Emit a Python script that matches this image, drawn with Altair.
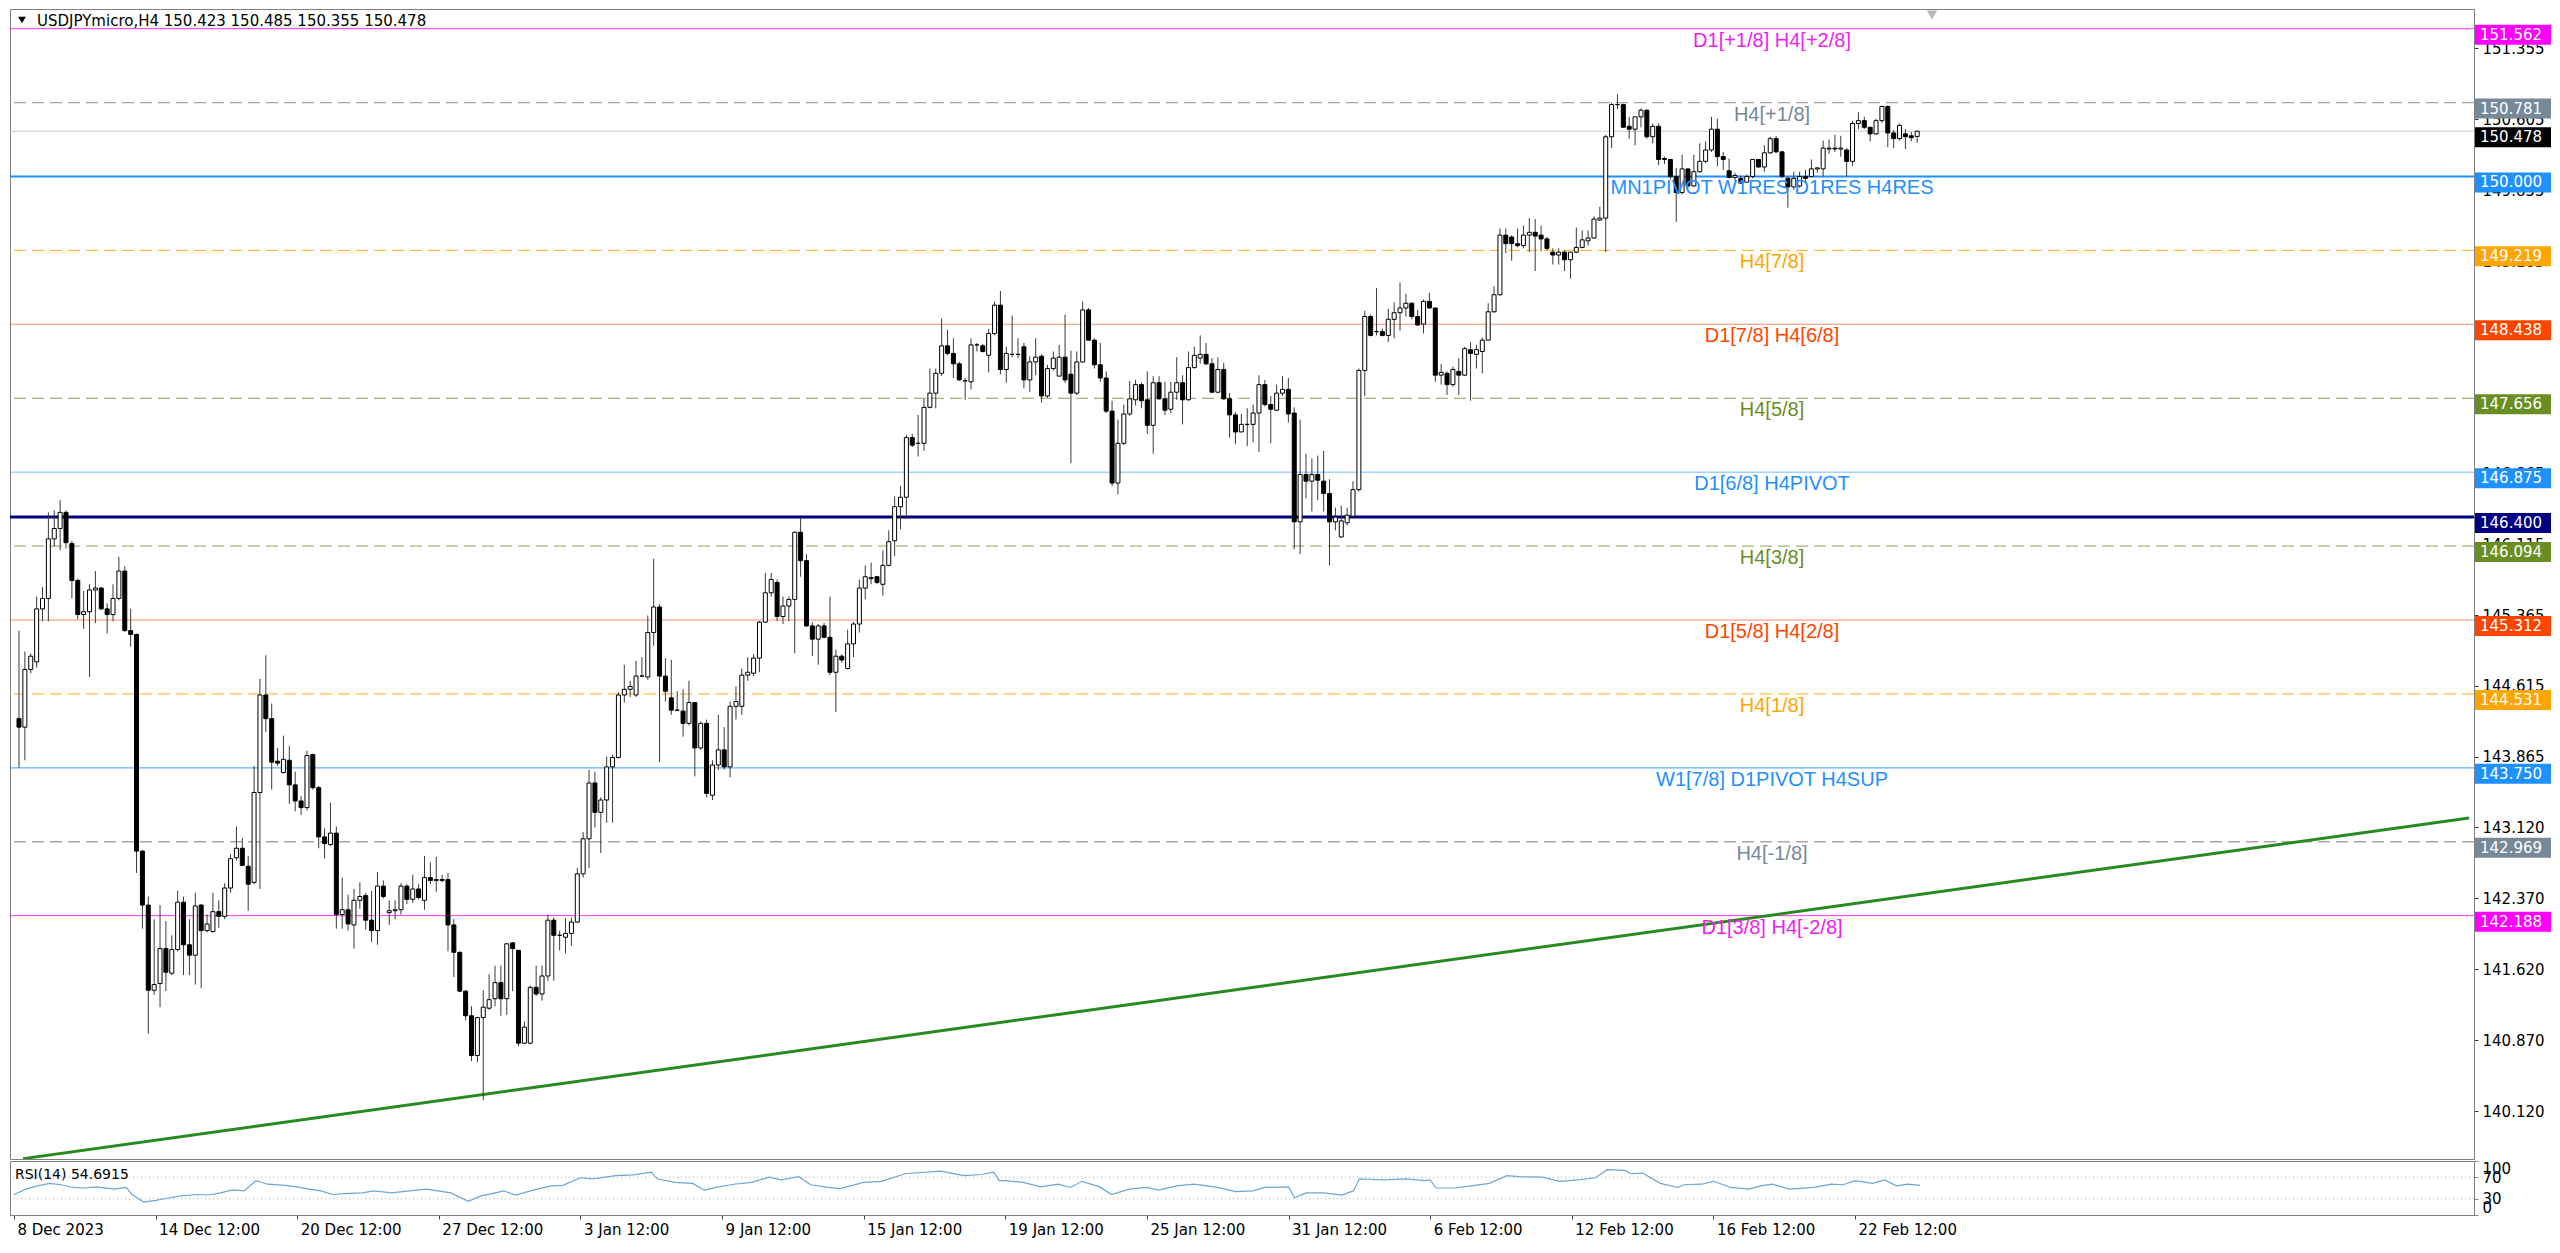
import altair as alt
import pandas as pd

# ---------------- candle data (H4 bars, index 0 = 8 Dec 2023 12:00) ----------------
OPEN = [
    144.27, 144.18, 144.79, 144.87, 145.43, 145.54, 146.17, 146.28, 146.45, 146.12,
    145.73, 145.37, 145.40, 145.63, 145.65, 145.43, 145.37, 145.54, 145.83, 145.20,
    145.16, 142.87, 142.30, 141.40, 141.47, 141.84, 141.58, 141.83, 142.33, 141.88,
    141.77, 142.30, 142.03, 142.02, 142.23, 142.18, 142.48, 142.80, 142.90, 142.71,
    142.54, 143.49, 144.52, 144.27, 143.82, 143.70, 143.83, 143.57, 143.40, 143.33,
    143.89, 143.54, 143.02, 142.94, 143.06, 142.20, 142.25, 142.09, 142.35, 142.40,
    142.14, 142.03, 142.50, 142.22, 142.24, 142.25, 142.50, 142.36, 142.47, 142.35,
    142.59, 142.56, 142.57, 142.57, 142.09, 141.80, 141.39, 141.13, 140.71, 141.11,
    141.21, 141.31, 141.48, 141.31, 141.90, 141.82, 140.84, 140.84, 141.43, 141.36,
    141.55, 142.14, 141.98, 141.96, 142.00, 142.12, 142.63, 143.00, 143.59, 143.28,
    143.41, 143.76, 143.86, 144.52, 144.58, 144.52, 144.72, 144.71, 145.18, 145.45,
    144.72, 144.49, 144.36, 144.35, 144.22, 144.44, 143.96, 144.22, 143.46, 143.78,
    143.94, 143.76, 144.40, 144.40, 144.73, 144.75, 144.91, 145.29, 145.60, 145.71,
    145.35, 145.46, 145.53, 146.24, 145.94, 145.25, 145.11, 145.25, 145.13, 144.76,
    144.93, 144.80, 145.06, 145.27, 145.65, 145.75, 145.77, 145.69, 145.89, 146.15,
    146.51, 146.61, 147.24, 147.18, 147.18, 147.56, 147.71, 147.92, 148.21, 148.13,
    148.02, 147.84, 147.83, 148.22, 148.21, 148.11, 148.34, 148.64, 147.96, 148.12,
    148.12, 148.20, 147.85, 148.04, 148.10, 147.68, 147.97, 147.89, 148.09, 147.91,
    147.71, 148.04, 148.59, 148.27, 148.01, 147.87, 147.52, 146.76, 147.18, 147.49,
    147.64, 147.80, 147.64, 147.37, 147.82, 147.65, 147.54, 147.72, 147.82, 147.64,
    147.98, 148.08, 148.12, 148.02, 147.72, 147.96, 147.65, 147.48, 147.30, 147.38,
    147.38, 147.50, 147.80, 147.59, 147.53, 147.71, 147.75, 147.50, 146.35, 146.85,
    146.78, 146.85, 146.78, 146.65, 146.35, 146.19, 146.34, 146.41, 146.69, 147.95,
    148.52, 148.36, 148.36, 148.32, 148.49, 148.56, 148.61, 148.66, 148.52, 148.44,
    148.68, 148.61, 147.90, 147.92, 147.80, 147.94, 147.90, 148.17, 148.12, 148.15,
    148.27, 148.57, 148.75, 149.38, 149.36, 149.29, 149.27, 149.38, 149.41, 149.38,
    149.34, 149.20, 149.17, 149.20, 149.12, 149.20, 149.25, 149.32, 149.35, 149.54,
    149.56, 150.42, 150.76, 150.76, 150.53, 150.50, 150.63, 150.70, 150.42, 150.53,
    150.19, 150.18, 150.00, 149.83, 150.08, 149.90, 150.05, 150.16, 150.28, 150.50,
    150.21, 150.06, 149.99, 149.98, 149.94, 150.00, 150.18, 150.10, 150.25, 150.40,
    150.26, 149.98, 149.89, 149.90, 150.00, 150.00, 150.08, 150.08, 150.29, 150.29,
    150.29, 150.28, 150.16, 150.56, 150.59, 150.52, 150.45, 150.59, 150.74, 150.46,
    150.40, 150.45, 150.43, 150.423,
]
HIGH = [
    145.20, 144.98, 144.96, 145.56, 145.66, 146.45, 146.47, 146.58, 146.47, 146.15,
    145.75, 145.62, 145.69, 145.83, 145.66, 145.49, 145.69, 145.98, 145.88, 145.43,
    145.17, 142.88, 142.39, 142.15, 142.30, 142.13, 141.98, 142.45, 142.39, 142.15,
    142.43, 142.31, 142.20, 142.43, 142.35, 142.53, 142.84, 143.13, 143.01, 142.82,
    143.77, 144.69, 144.94, 144.43, 143.96, 144.09, 143.98, 143.71, 143.45, 143.93,
    143.90, 143.56, 143.11, 143.38, 143.13, 142.59, 142.41, 142.47, 142.54, 142.43,
    142.45, 142.65, 142.56, 142.35, 142.35, 142.53, 142.52, 142.62, 142.52, 142.82,
    142.75, 142.81, 142.62, 142.64, 142.15, 141.81, 141.40, 141.23, 141.12, 141.40,
    141.57, 141.66, 141.66, 141.90, 141.91, 141.83, 141.07, 141.45, 141.66, 141.66,
    142.20, 142.17, 142.03, 142.16, 142.17, 142.69, 143.07, 143.73, 143.71, 143.44,
    143.87, 143.89, 144.55, 144.84, 144.67, 144.88, 144.92, 145.36, 145.96, 145.48,
    144.91, 144.89, 144.56, 144.58, 144.67, 144.45, 144.24, 144.26, 143.83, 144.31,
    144.18, 144.45, 144.61, 144.80, 144.92, 144.95, 145.30, 145.81, 145.81, 145.74,
    145.56, 145.56, 146.25, 146.40, 146.01, 145.29, 145.27, 145.28, 145.56, 145.00,
    144.95, 145.21, 145.29, 145.74, 145.89, 145.92, 145.78, 146.05, 146.26, 146.62,
    146.73, 147.27, 147.28, 147.48, 147.65, 147.97, 147.97, 148.50, 148.38, 148.29,
    148.04, 147.87, 148.29, 148.24, 148.23, 148.39, 148.68, 148.79, 148.20, 148.53,
    148.29, 148.24, 148.10, 148.29, 148.12, 148.01, 148.15, 148.22, 148.54, 148.16,
    148.15, 148.68, 148.61, 148.29, 148.24, 147.94, 147.63, 147.43, 147.59, 147.84,
    147.85, 147.82, 147.94, 147.89, 147.89, 147.83, 147.83, 148.09, 147.90, 148.15,
    148.20, 148.32, 148.24, 148.08, 148.09, 148.03, 147.71, 147.51, 147.49, 147.55,
    147.59, 147.90, 147.85, 147.68, 147.80, 147.89, 147.87, 147.56, 147.43, 147.07,
    147.02, 147.05, 147.10, 146.80, 146.50, 146.52, 146.50, 146.78, 147.97, 148.58,
    148.54, 148.82, 148.39, 148.60, 148.67, 148.88, 148.76, 148.67, 148.59, 148.70,
    148.77, 148.61, 148.02, 147.94, 147.99, 148.08, 148.20, 148.25, 148.22, 148.30,
    148.66, 148.84, 149.45, 149.45, 149.38, 149.45, 149.48, 149.56, 149.55, 149.48,
    149.36, 149.24, 149.24, 149.22, 149.20, 149.46, 149.43, 149.43, 149.58, 149.68,
    150.44, 150.78, 150.87, 150.77, 150.63, 150.63, 150.72, 150.71, 150.56, 150.56,
    150.21, 150.18, 150.09, 150.23, 150.08, 150.23, 150.35, 150.37, 150.63, 150.61,
    150.26, 150.19, 150.04, 150.01, 150.02, 150.18, 150.18, 150.33, 150.42, 150.43,
    150.27, 150.00, 150.05, 150.05, 150.07, 150.18, 150.10, 150.38, 150.39, 150.44,
    150.43, 150.30, 150.59, 150.68, 150.63, 150.52, 150.61, 150.75, 150.75, 150.49,
    150.56, 150.50, 150.47, 150.485,
]
LOW = [
    143.75, 143.83, 144.75, 144.81, 145.30, 145.30, 146.09, 146.05, 146.07, 145.54,
    145.32, 145.22, 144.71, 145.28, 145.42, 145.17, 145.30, 145.52, 145.19, 145.03,
    142.64, 142.05, 140.94, 141.35, 141.22, 141.39, 141.56, 141.81, 141.56, 141.56,
    141.46, 141.42, 142.01, 142.01, 142.06, 142.15, 142.43, 142.77, 142.71, 142.24,
    142.52, 142.47, 144.13, 143.52, 143.77, 143.69, 143.37, 143.29, 143.25, 143.30,
    143.52, 142.90, 142.79, 142.92, 142.05, 142.05, 142.03, 141.84, 142.26, 142.04,
    141.91, 141.88, 142.37, 142.09, 142.15, 142.20, 142.31, 142.32, 142.36, 142.25,
    142.52, 142.44, 142.54, 141.81, 141.54, 141.38, 141.08, 140.65, 140.64, 140.24,
    141.19, 141.23, 141.13, 141.14, 141.39, 140.81, 140.83, 140.83, 141.34, 141.29,
    141.50, 141.50, 141.82, 141.79, 141.87, 142.11, 142.59, 142.69, 143.12, 142.85,
    143.17, 143.17, 143.85, 144.44, 144.50, 144.50, 144.71, 144.68, 145.04, 143.81,
    144.45, 144.31, 144.35, 144.08, 144.20, 143.66, 143.94, 143.44, 143.41, 143.73,
    143.73, 143.65, 144.26, 144.31, 144.67, 144.72, 144.76, 145.28, 145.56, 145.30,
    145.27, 145.30, 144.96, 145.77, 145.24, 144.93, 144.84, 145.12, 144.73, 144.34,
    144.86, 144.79, 144.92, 145.18, 145.53, 145.69, 145.69, 145.57, 145.88, 145.99,
    146.27, 146.38, 147.14, 147.04, 147.10, 147.55, 147.55, 147.89, 148.11, 147.87,
    147.84, 147.64, 147.75, 148.15, 148.14, 147.93, 148.32, 147.91, 147.82, 148.09,
    148.08, 147.76, 147.72, 147.90, 147.61, 147.66, 147.95, 147.89, 147.82, 146.97,
    147.69, 148.03, 148.27, 147.97, 147.83, 147.50, 146.73, 146.64, 147.16, 147.47,
    147.58, 147.55, 147.28, 147.07, 147.64, 147.48, 147.50, 147.64, 147.38, 147.63,
    147.97, 148.02, 148.01, 147.71, 147.71, 147.64, 147.24, 147.17, 147.30, 147.15,
    147.19, 147.09, 147.57, 147.18, 147.52, 147.68, 147.40, 146.06, 146.01, 146.60,
    146.46, 146.58, 146.46, 145.89, 146.26, 146.18, 146.31, 146.40, 146.67, 147.68,
    148.31, 148.32, 148.31, 148.25, 148.29, 148.37, 148.52, 148.49, 148.42, 148.34,
    148.60, 147.83, 147.80, 147.69, 147.78, 147.69, 147.89, 147.63, 147.97, 147.92,
    148.27, 148.56, 148.74, 149.19, 149.11, 149.25, 149.24, 149.20, 149.00, 149.21,
    149.22, 149.07, 149.07, 149.00, 148.92, 149.19, 149.24, 149.27, 149.34, 149.53,
    149.20, 150.30, 150.71, 150.52, 150.40, 150.33, 150.52, 150.40, 150.35, 150.12,
    150.13, 149.97, 149.52, 149.81, 149.88, 149.89, 150.04, 150.14, 150.26, 150.11,
    150.07, 149.98, 149.95, 149.93, 149.94, 149.98, 150.09, 150.05, 150.24, 150.25,
    149.98, 149.67, 149.86, 149.88, 149.93, 149.99, 150.04, 150.00, 150.24, 150.26,
    150.21, 150.00, 150.11, 150.50, 150.50, 150.37, 150.44, 150.57, 150.31, 150.30,
    150.38, 150.29, 150.37, 150.355,
]
CLOSE = [
    144.18, 144.79, 144.93, 145.43, 145.54, 146.17, 146.28, 146.45, 146.13, 145.73,
    145.37, 145.40, 145.63, 145.65, 145.43, 145.37, 145.54, 145.83, 145.20, 145.16,
    142.87, 142.30, 141.40, 141.46, 141.84, 141.59, 141.83, 142.33, 141.88, 141.77,
    142.29, 142.03, 142.10, 142.23, 142.18, 142.48, 142.79, 142.90, 142.72, 142.52,
    143.49, 144.52, 144.27, 143.81, 143.80, 143.84, 143.57, 143.40, 143.33, 143.88,
    143.54, 143.02, 142.95, 143.06, 142.20, 142.25, 142.10, 142.35, 142.39, 142.14,
    142.03, 142.50, 142.39, 142.24, 142.25, 142.50, 142.36, 142.47, 142.38, 142.59,
    142.56, 142.57, 142.56, 142.09, 141.80, 141.39, 141.13, 140.71, 141.11, 141.22,
    141.30, 141.48, 141.31, 141.89, 141.84, 140.84, 141.01, 141.43, 141.36, 141.55,
    142.14, 141.98, 141.98, 142.00, 142.12, 142.63, 143.00, 143.59, 143.28, 143.41,
    143.76, 143.86, 144.52, 144.58, 144.61, 144.72, 144.72, 145.18, 145.45, 144.72,
    144.56, 144.36, 144.36, 144.22, 144.44, 143.96, 144.22, 143.48, 143.78, 143.94,
    143.76, 144.40, 144.45, 144.73, 144.76, 144.91, 145.29, 145.60, 145.74, 145.35,
    145.46, 145.53, 146.24, 145.94, 145.25, 145.11, 145.25, 145.13, 144.76, 144.93,
    144.89, 145.06, 145.27, 145.65, 145.77, 145.76, 145.71, 145.89, 146.14, 146.51,
    146.61, 147.24, 147.16, 147.18, 147.56, 147.71, 147.92, 148.21, 148.13, 148.02,
    147.85, 147.84, 148.22, 148.22, 148.15, 148.34, 148.64, 147.96, 148.13, 148.12,
    148.12, 147.85, 148.04, 148.09, 147.68, 147.97, 148.08, 148.09, 147.85, 147.71,
    148.04, 148.59, 148.27, 148.01, 147.87, 147.52, 146.76, 147.18, 147.49, 147.65,
    147.80, 147.63, 147.37, 147.82, 147.65, 147.53, 147.72, 147.82, 147.64, 147.98,
    148.11, 148.12, 148.02, 147.72, 147.96, 147.65, 147.48, 147.30, 147.38, 147.38,
    147.50, 147.80, 147.59, 147.54, 147.71, 147.75, 147.49, 146.35, 146.85, 146.78,
    146.85, 146.79, 146.65, 146.35, 146.40, 146.36, 146.42, 146.69, 147.95, 148.52,
    148.32, 148.36, 148.32, 148.49, 148.56, 148.61, 148.66, 148.52, 148.43, 148.68,
    148.61, 147.90, 147.93, 147.80, 147.96, 147.90, 148.18, 148.13, 148.17, 148.27,
    148.57, 148.75, 149.38, 149.29, 149.29, 149.27, 149.38, 149.41, 149.37, 149.34,
    149.24, 149.17, 149.20, 149.12, 149.20, 149.25, 149.33, 149.35, 149.55, 149.56,
    150.42, 150.76, 150.76, 150.52, 150.50, 150.63, 150.70, 150.42, 150.53, 150.18,
    150.18, 150.00, 149.83, 150.08, 149.90, 150.05, 150.16, 150.28, 150.50, 150.21,
    150.18, 149.99, 150.01, 149.93, 150.00, 150.18, 150.10, 150.25, 150.40, 150.26,
    150.00, 149.89, 149.98, 150.00, 149.98, 150.08, 150.09, 150.30, 150.30, 150.30,
    150.30, 150.16, 150.56, 150.59, 150.52, 150.45, 150.59, 150.74, 150.46, 150.40,
    150.54, 150.42, 150.41, 150.478,
]
assert len(OPEN) == len(HIGH) == len(LOW) == len(CLOSE) == 324

# ---------------- RSI(14) ----------------
RSI_IDX = [
    0, 2, 4, 6, 8, 10, 12, 14, 17, 19,
    20, 22, 24, 26, 28, 31, 33, 35, 37, 39,
    41, 43, 46, 48, 50, 52, 54, 56, 59, 61,
    64, 67, 70, 74, 77, 79, 81, 83, 85, 88,
    91, 93, 96, 98, 102, 105, 108, 109, 112, 115,
    117, 119, 122, 125, 128, 130, 133, 135, 138, 140,
    144, 147, 151, 157, 161, 164, 166, 167, 168, 171,
    174, 177, 179, 181, 184, 186, 189, 192, 194, 197,
    200, 204, 207, 210, 212, 216, 217, 219, 222, 225,
    227, 228, 232, 236, 239, 240, 241, 244, 247, 250,
    253, 255, 259, 262, 265, 268, 270, 273, 274, 276,
    279, 282, 283, 286, 288, 291, 294, 296, 298, 301,
    305, 308, 310, 312, 315, 317, 319, 321, 323,
]
RSI_VAL = [
    38, 48, 54, 58.6, 56, 51, 50, 52, 48, 51,
    38, 24, 27, 31, 35, 38, 37, 41, 46.5, 44.6,
    63.6, 57, 55, 52, 48, 44.6, 38, 39.5, 41, 44.6,
    41, 44.6, 48, 41, 25.5, 35, 39.5, 44.6, 37, 46,
    54, 55, 69, 67, 73, 74.4, 79.5, 67, 60.5, 58.6,
    46, 51, 57, 60.5, 70, 65, 71, 56, 51, 49,
    60.5, 62.4, 76.4, 81.4, 73, 75, 79.5, 63.6, 63.6, 60.5,
    52, 57, 51, 62.4, 52, 38, 48, 51, 46, 54,
    57, 51, 43.4, 44.6, 51, 52, 32, 41, 41, 37,
    44.6, 67, 65, 67, 63.6, 65, 50, 50, 54, 58.6,
    73, 71, 70, 62.4, 65, 69, 84, 82.5, 76.4, 77.6,
    58.6, 51, 56, 57, 62.4, 51, 48, 54, 57, 48,
    51, 57, 56, 63.6, 58.6, 65, 54, 57, 54.69,
]
RSI_LEVELS = [30, 70]
RSI_TICKS = [0, 30, 70, 100]

# ---------------- Murrey-math style levels ----------------
LEVEL_PRICES = [151.562, 150.781, 150.478, 150.000, 149.219, 148.438, 147.656,
                146.875, 146.400, 146.094, 145.312, 144.531, 143.750, 142.969, 142.188]
LEVEL_TEXTS = ["D1[+1/8] H4[+2/8]", "H4[+1/8]", "", "MN1PIVOT W1RES D1RES H4RES",
               "H4[7/8]", "D1[7/8] H4[6/8]", "H4[5/8]", "D1[6/8] H4PIVOT", "",
               "H4[3/8]", "D1[5/8] H4[2/8]", "H4[1/8]", "W1[7/8] D1PIVOT H4SUP",
               "H4[-1/8]", "D1[3/8] H4[-2/8]"]
LEVEL_LINE_COLORS = ["#ff00ff", "#a8a8a8", "#c8c8c8", "#1e90ff", "#ffa500", "#ff4500",
                     "#6b8e23", "#1e90ff", "#000080", "#6b8e23", "#ff4500", "#ffa500",
                     "#1e90ff", "#a8a8a8", "#ff00ff"]
LEVEL_DASHED = [False, True, False, False, True, False, True, False, False, True,
                False, True, False, True, False]
LEVEL_WIDTHS = [1, 1.3, 1, 2, 1, 1, 1, 1, 3, 1, 1, 1, 1.2, 1.3, 1]
LEVEL_OPACITY = [0.8, 1, 1, 1, 0.9, 0.6, 0.8, 0.6, 1, 0.8, 0.6, 0.9, 0.7, 1, 0.8]
LEVEL_TEXT_COLORS = ["#ee22ee", "#778899", "#000000", "#1e90ff", "#ffa500", "#ff4500",
                     "#6b8e23", "#1e90ff", "#000080", "#6b8e23", "#ff4500", "#ffa500",
                     "#1e90ff", "#778899", "#ee22ee"]
LEVEL_TAG_COLORS = ["#ff00ff", "#778899", "#000000", "#1e90ff", "#ffa500", "#ff4500",
                    "#6b8e23", "#1e90ff", "#000080", "#6b8e23", "#ff4500", "#ffa500",
                    "#1e90ff", "#778899", "#ff00ff"]

TREND_IDX = [0.7, 416.9]
TREND_PRICE = [139.62, 143.22]

PRICE_TICKS = [140.120, 140.870, 141.620, 142.370, 143.120, 143.865, 144.615, 145.365,
               146.115, 146.865, 147.615, 148.365, 149.105, 149.855, 150.605, 151.355]
DATE_TICK_IDX = [0, 24, 48, 72, 96, 120, 144, 168, 192, 216, 240, 264, 288, 312]
DATE_LABELS = ["8 Dec 2023", "14 Dec 12:00", "20 Dec 12:00", "27 Dec 12:00",
               "3 Jan 12:00", "9 Jan 12:00", "15 Jan 12:00", "19 Jan 12:00",
               "25 Jan 12:00", "31 Jan 12:00", "6 Feb 12:00", "12 Feb 12:00",
               "16 Feb 12:00", "22 Feb 12:00"]

TITLE = "USDJPYmicro,H4  150.423 150.485 150.355 150.478"
RSI_TITLE = "RSI(14) 54.6915"

# ---------------- layout constants ----------------
W = 2464
H1 = 1150
H2 = 54
XDOM = [-0.68, 416.9]
YDOM = [139.616, 151.770]
FONT = "DejaVu Sans"

cdf = pd.DataFrame({"i": list(range(len(OPEN))), "o": OPEN, "h": HIGH, "l": LOW, "c": CLOSE})
lev = pd.DataFrame({
    "p": LEVEL_PRICES, "txt": LEVEL_TEXTS, "col": LEVEL_LINE_COLORS,
    "dashed": LEVEL_DASHED, "w": LEVEL_WIDTHS, "op": LEVEL_OPACITY,
    "tcol": LEVEL_TEXT_COLORS, "tag": LEVEL_TAG_COLORS,
})
trend = pd.DataFrame({"i": TREND_IDX, "p": TREND_PRICE})
rsi = pd.DataFrame({"i": RSI_IDX, "v": RSI_VAL})
rsi_lv = pd.DataFrame({"v": RSI_LEVELS})

xs = alt.Scale(domain=XDOM, nice=False, zero=False)
ys = alt.Scale(domain=YDOM, nice=False, zero=False)
y_axis = alt.Axis(orient="right", values=PRICE_TICKS, format=".3f", title=None, grid=False,
                  labelFont=FONT, labelFontSize=15, labelColor="black", tickColor="#333333",
                  tickSize=4, labelPadding=4, domainColor="#808080", labelOverlap=False)


def X(field="i"):
    return alt.X(f"{field}:Q", scale=xs, axis=None)


def Y(field):
    return alt.Y(f"{field}:Q", scale=ys, axis=y_axis)


solid = alt.Chart(lev).transform_filter("!datum.dashed").mark_rule().encode(
    y=Y("p"),
    color=alt.Color("col:N", scale=None),
    strokeWidth=alt.StrokeWidth("w:Q", scale=None),
    opacity=alt.Opacity("op:Q", scale=None),
)
dashed = alt.Chart(lev).transform_filter("datum.dashed").mark_rule(strokeDash=[12, 6]).encode(
    y=Y("p"),
    color=alt.Color("col:N", scale=None),
    strokeWidth=alt.StrokeWidth("w:Q", scale=None),
    opacity=alt.Opacity("op:Q", scale=None),
)
trend_line = alt.Chart(trend).mark_line(color="#2a8a22", strokeWidth=3, clip=True).encode(
    x=X(), y=Y("p")
)
wicks = alt.Chart(cdf).mark_rule(color="#3a3a3a", strokeWidth=1).encode(
    x=X(), y=Y("l"), y2="h:Q"
)
bodies = alt.Chart(cdf).mark_bar(size=4, stroke="black", strokeWidth=1).encode(
    x=X(), y=Y("o"), y2="c:Q",
    fill=alt.condition("datum.c >= datum.o", alt.value("white"), alt.value("black")),
)
labels = alt.Chart(lev).transform_filter("datum.txt != ''").mark_text(
    font="Liberation Sans", fontSize=20, align="center", baseline="middle", dy=12
).encode(
    x=alt.value(1762), y=Y("p"), text="txt:N", color=alt.Color("tcol:N", scale=None)
)
tags = alt.Chart(lev).mark_rect(yOffset=-4, y2Offset=16).encode(
    x=alt.value(W + 1), x2=alt.value(W + 77), y=Y("p"), y2="p:Q",
    color=alt.Color("tag:N", scale=None),
)
tag_text = alt.Chart(lev).mark_text(
    align="left", baseline="middle", dy=6, font=FONT, fontSize=15, color="white"
).encode(
    x=alt.value(W + 6), y=Y("p"), text=alt.Text("p:Q", format=".3f")
)
title = alt.Chart(pd.DataFrame({"t": [TITLE]})).mark_text(
    align="left", baseline="middle", font=FONT, fontSize=15, color="black"
).encode(x=alt.value(27), y=alt.value(12), text="t:N")
tri = alt.Chart(pd.DataFrame({"t": [TITLE]})).mark_point(
    shape="triangle-down", filled=True, color="black", size=60, opacity=1
).encode(x=alt.value(12), y=alt.value(11))
shift_mark = alt.Chart(pd.DataFrame({"t": [TITLE]})).mark_point(
    shape="triangle-down", filled=True, color="#b8b8b8", size=110, opacity=1
).encode(x=alt.value(1922), y=alt.value(6))

main = alt.layer(
    solid, dashed, trend_line, wicks, bodies, labels, tags, tag_text, title, tri, shift_mark
).properties(width=W, height=H1)

label_expr = "[" + ",".join(f"'{s}'" for s in DATE_LABELS) + "][round(datum.value / 24)]"
x_axis = alt.Axis(values=DATE_TICK_IDX, labelExpr=label_expr, labelAlign="left", labelOffset=3,
                  tickSize=4, labelFont=FONT, labelFontSize=15, labelColor="black",
                  tickColor="#404040", domainColor="#808080", grid=False, title=None,
                  labelPadding=3, labelOverlap=False, labelFlush=False)
ry = alt.Scale(domain=[0, 100], nice=False, zero=False)
ry_axis = alt.Axis(orient="right", values=RSI_TICKS, format="d", labelFlush=True,
                   labelOverlap=False, tickSize=4, labelFont=FONT, labelFontSize=15,
                   labelColor="black", title=None, grid=False, domainColor="#808080",
                   labelPadding=4)

rsi_levels = alt.Chart(rsi_lv).mark_rule(color="#b0b0b0", strokeDash=[1, 3], strokeWidth=1).encode(
    y=alt.Y("v:Q", scale=ry, axis=ry_axis)
)
rsi_line = alt.Chart(rsi).mark_line(color="#6ea6d2", strokeWidth=1.2).encode(
    x=alt.X("i:Q", scale=xs, axis=x_axis), y=alt.Y("v:Q", scale=ry, axis=ry_axis)
)
rsi_title = alt.Chart(pd.DataFrame({"t": [RSI_TITLE]})).mark_text(
    align="left", baseline="middle", font=FONT, fontSize=14, color="black"
).encode(x=alt.value(5), y=alt.value(14), text="t:N")

lower = alt.layer(rsi_levels, rsi_line, rsi_title).properties(width=W, height=H2)

chart = alt.vconcat(main, lower, spacing=0).properties(padding=0).configure(
    background="white"
).configure_view(stroke="#808080", strokeWidth=1)

chart.save("out.html", embed_options={"renderer": "svg", "actions": False})
